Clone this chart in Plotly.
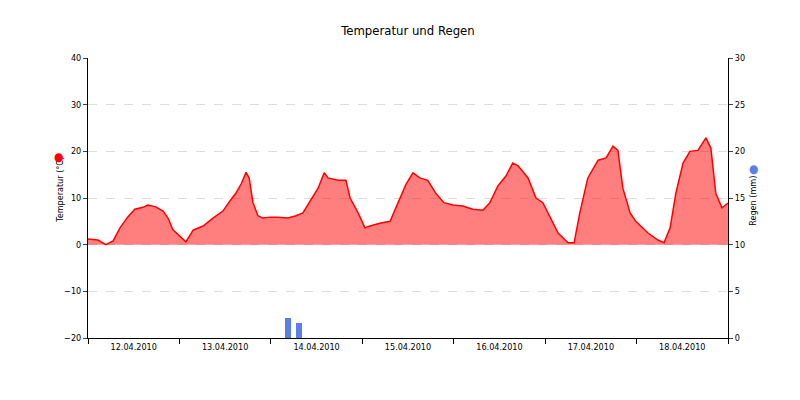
import plotly.graph_objects as go
import pandas as pd

# hours since 12.04.2010 00:00 and temperature (°C)
temp_hours = [0, 2.6, 4.7, 6.6, 8.4, 10.5, 12.3, 14.4, 15.7, 17.8, 19.7, 21.0, 22.3, 23.9,
              25.7, 27.6, 30.2, 32.8, 35.4, 37.3, 38.8, 40.2, 41.5, 42.3, 43.3, 44.6, 45.9, 47.8,
              49.9, 52.5, 54.6, 56.4, 58.3, 60.4, 62.0, 63.0, 65.6, 67.7, 68.8, 70.9, 72.7,
              74.0, 76.6, 79.3, 81.4, 83.5, 85.3, 87.1, 89.2, 91.3, 93.4, 95.8,
              98.4, 101.0, 103.7, 105.5, 107.6, 109.7, 111.5, 112.9, 115.5, 117.6, 119.4, 120.7,
              123.4, 126.0, 127.6, 129.1, 131.2, 133.9, 136.0, 137.8, 139.1, 140.4, 142.3, 143.8,
              147.0, 149.6, 151.2, 152.8, 154.3, 156.2, 158.0, 160.1, 162.2, 163.5, 164.8, 166.4, 168.0]
temp_vals = [1.2, 1.0, 0.0, 0.8, 3.6, 6.0, 7.6, 8.0, 8.5, 8.1, 7.2, 5.7, 3.2, 1.9,
             0.6, 3.1, 4.0, 5.7, 7.2, 9.4, 11.0, 13.0, 15.5, 14.3, 9.0, 6.2, 5.7, 5.9,
             5.9, 5.7, 6.2, 6.8, 9.4, 12.1, 15.4, 14.3, 13.8, 13.8, 10.0, 6.8, 3.6,
             4.0, 4.6, 5.0, 9.0, 13.0, 15.4, 14.3, 13.8, 11.0, 9.0, 8.5,
             8.3, 7.6, 7.4, 9.0, 12.6, 14.7, 17.5, 16.9, 14.3, 10.0, 9.0, 6.8,
             2.5, 0.4, 0.4, 6.8, 14.3, 18.1, 18.6, 21.1, 20.2, 12.1, 6.8, 5.0,
             2.5, 1.0, 0.4, 3.6, 11.0, 17.5, 20.0, 20.2, 22.9, 20.7, 11.0, 7.9, 8.9]
rain_hours = [52.5, 55.4]
rain_vals = [2.1, 1.6]
day_labels = ["12.04.2010", "13.04.2010", "14.04.2010", "15.04.2010",
              "16.04.2010", "17.04.2010", "18.04.2010"]

start = pd.Timestamp("2010-04-12")
tx = [start + pd.Timedelta(hours=h) for h in temp_hours]
rx = [start + pd.Timedelta(hours=h) for h in rain_hours]
noons = [start + pd.Timedelta(hours=12 + 24 * i) for i in range(len(day_labels))]

fig = go.Figure()
fig.add_trace(go.Scatter(x=tx, y=temp_vals, mode="lines", fill="tozeroy",
                         line=dict(color="#ff0000", width=1.5),
                         fillcolor="rgba(255,0,0,0.5)", showlegend=False))
fig.add_trace(go.Bar(x=rx, y=rain_vals, yaxis="y2", width=1.6 * 3600000,
                     marker=dict(color="#5b7fe8", line_width=0), showlegend=False))

font = "DejaVu Sans Condensed, DejaVu Sans"
fig.update_layout(
    width=800, height=400, margin=dict(l=80, r=80, t=50, b=70),
    paper_bgcolor="white", plot_bgcolor="white",
    font=dict(family=font, size=9, color="black"),
    title=dict(text="Temperatur und Regen", x=0.5, y=0.955, font=dict(size=13)),
    xaxis=dict(range=[start, start + pd.Timedelta(days=7)], tickvals=noons, ticktext=day_labels,
               ticks="", showgrid=False, showline=True, linecolor="black", automargin=False,
               minor=dict(ticks="outside", tick0=start, dtick=86400000, ticklen=5,
                          tickcolor="black", showgrid=False)),
    yaxis=dict(range=[-20, 40], dtick=10, showline=True, linecolor="black", automargin=False,
               ticks="outside", ticklen=4, gridcolor="#dddddd", griddash="dash",
               zeroline=False),
    yaxis2=dict(range=[0, 30], dtick=5, overlaying="y", side="right", showline=True,
                automargin=False, linecolor="black", ticks="outside", ticklen=4,
                showgrid=False, zeroline=False),
    bargap=0,
)
fig.add_annotation(xref="paper", yref="paper", x=-0.056, y=0.53, text="Temperatur (°C)",
                   textangle=-90, showarrow=False, font=dict(size=9))
fig.add_annotation(xref="paper", yref="paper", x=-0.057, y=0.645, text="●",
                   showarrow=False, font=dict(size=12, color="#ff0000"))
fig.add_annotation(xref="paper", yref="paper", x=1.05, y=0.49, text="Regen (mm)",
                   textangle=-90, showarrow=False, font=dict(size=9))
fig.add_annotation(xref="paper", yref="paper", x=1.05, y=0.605, text="●",
                   showarrow=False, font=dict(size=12, color="#5b7fe8"))
fig.write_html("out.html")
